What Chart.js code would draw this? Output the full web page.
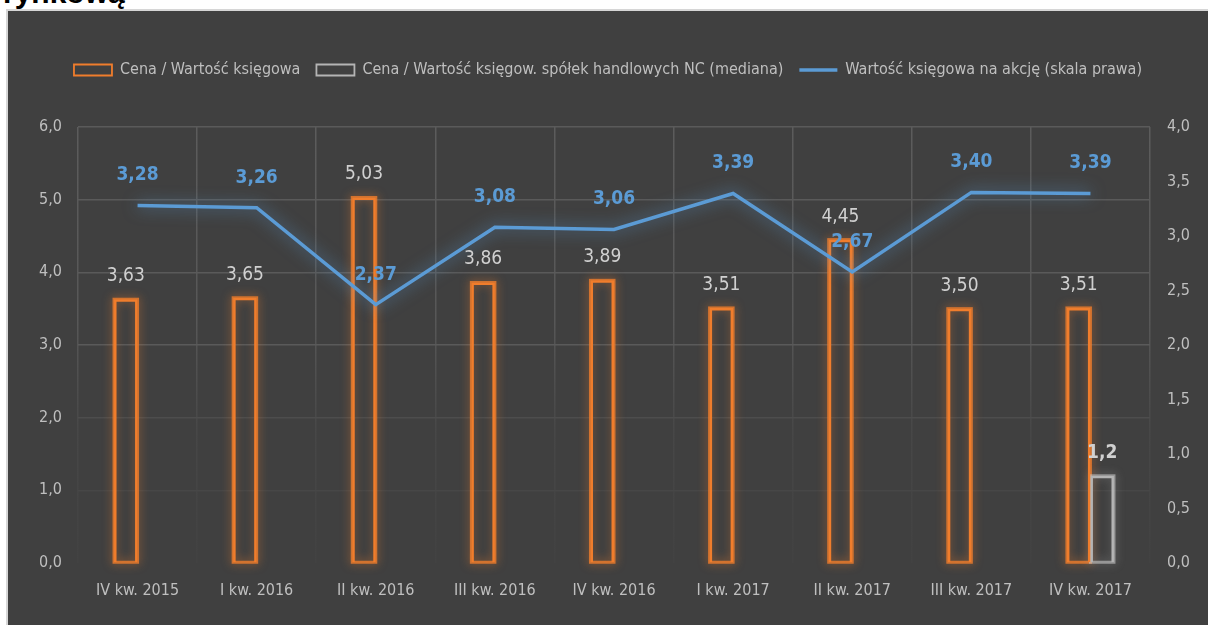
<!DOCTYPE html>
<html lang="pl">
<head>
  <meta charset="UTF-8">
  <title>Cena / Wartość księgowa</title>
  <script src="https://cdn.jsdelivr.net/npm/chart.js"></script>
  <style>
    html, body {
      margin: 0; padding: 0; background: #fff; overflow: hidden;
      width: 1208px; height: 625px;
    }
    #tytul {
      position: absolute; left: 3px; top: -22px;
      font: bold 30px 'Liberation Sans', Arial, sans-serif; line-height: 30px;
      color: #000;
    }
    #box {
      position: absolute; left: 6px; top: 9px;
      width: 1210px; height: 620px;
      border: 2px solid #d6d6d6; background: #404040;
    }
    canvas { display: block; }
  </style>
</head>
<body>
  <div id="tytul">rynkową</div>
  <div id="box">
    <canvas id="wykres" width="1200" height="614"></canvas>
  </div>

  <script>
    const categories = ['IV kw. 2015', 'I kw. 2016', 'II kw. 2016', 'III kw. 2016', 'IV kw. 2016',
                        'I kw. 2017', 'II kw. 2017', 'III kw. 2017', 'IV kw. 2017'];
    const cenaWk = [3.63, 3.65, 5.03, 3.86, 3.89, 3.51, 4.45, 3.50, 3.51];
    const cenaWkNC = [null, null, null, null, null, null, null, null, 1.2];
    const wkNaAkcje = [3.28, 3.26, 2.37, 3.08, 3.06, 3.39, 2.67, 3.40, 3.39];

    const F = "'DejaVu Sans Condensed', 'Liberation Sans Narrow', sans-serif";
    const ORANGE = '#F07D2C', GREY = '#b4b4b4', BLUE = '#5B9BD5', TXT = '#bfbfbf';
    Chart.defaults.font.family = F;

    const pl = (v, d) => v.toFixed(d).replace('.', ',');

    // poświata pod słupkami (rysowana z pozycji elementów)
    const glow = {
      id: 'glow',
      beforeDatasetsDraw(chart) {
        const c = chart.ctx;
        [0, 1].forEach(di => {
          const meta = chart.getDatasetMeta(di);
          const col = di === 0 ? 'rgba(240,125,44,0.8)' : 'rgba(200,200,200,0.6)';
          meta.data.forEach((el, i) => {
            if (chart.data.datasets[di].data[i] == null) return;
            const p = el.getProps(['x', 'y', 'base', 'width'], true);
            c.save();
            c.shadowColor = col; c.shadowBlur = 10;
            c.strokeStyle = col; c.lineWidth = 3;
            c.strokeRect(p.x - p.width / 2, p.y, p.width, p.base - p.y);
            c.restore();
          });
        });
      },
      beforeDatasetDraw(chart, args) {
        if (args.index !== 2) return;
        chart.ctx.save();
        chart.ctx.shadowColor = 'rgba(91,155,213,0.8)';
        chart.ctx.shadowBlur = 16;
      },
      afterDatasetDraw(chart, args) {
        if (args.index === 2) chart.ctx.restore();
      }
    };

    // etykiety danych
    const etykiety = {
      id: 'etykiety',
      afterDatasetsDraw(chart) {
        const c = chart.ctx;
        c.save();
        c.textAlign = 'center'; c.textBaseline = 'middle';
        chart.data.datasets.forEach((ds, di) => {
          chart.getDatasetMeta(di).data.forEach((el, i) => {
            const v = ds.data[i];
            if (v == null) return;
            if (di === 0) {
              c.font = '19px ' + F; c.fillStyle = '#d0d0d0';
              c.fillText(pl(v, 2), el.x, el.y - 23);
            } else if (di === 1) {
              c.font = 'bold 19px ' + F; c.fillStyle = '#d0d0d0';
              c.fillText(pl(v, 1), el.x, el.y - 23);
            } else {
              c.font = 'bold 19px ' + F; c.fillStyle = BLUE;
              c.fillText(pl(v, 2), el.x, el.y - 30);
            }
          });
        });
        c.restore();
      }
    };

    const gridY = ctx => {
      const v = ctx.tick ? ctx.tick.value : 6;
      if (v >= 3) return '#5a5a5a';
      if (v === 2) return '#4d4d4d';
      if (v === 1) return '#474747';
      return 'rgba(0,0,0,0)';
    };
    const gridX = ctx => {
      const ch = ctx.chart, a = ch.chartArea;
      if (!a) return '#5a5a5a';
      const g = ch.ctx.createLinearGradient(0, a.top, 0, a.bottom);
      g.addColorStop(0, '#5c5c5c');
      g.addColorStop(0.45, '#575757');
      g.addColorStop(0.7, '#474747');
      g.addColorStop(1, '#424242');
      return g;
    };

    new Chart(document.getElementById('wykres'), {
      type: 'bar',
      data: {
        labels: categories,
        datasets: [
          {
            label: 'Cena / Wartość księgowa', data: cenaWk, yAxisID: 'y',
            borderColor: ORANGE, backgroundColor: 'rgba(0,0,0,0)', borderWidth: 2.5,
            categoryPercentage: 0.395, barPercentage: 1, order: 1
          },
          {
            label: 'Cena / Wartość księgow. spółek handlowych NC (mediana)', data: cenaWkNC, yAxisID: 'y',
            borderColor: GREY, backgroundColor: 'rgba(0,0,0,0)', borderWidth: 2.5,
            categoryPercentage: 0.395, barPercentage: 1, order: 1
          },
          {
            type: 'line', label: 'Wartość księgowa na akcję (skala prawa)', data: wkNaAkcje, yAxisID: 'y1',
            borderColor: BLUE, borderWidth: 3.5, pointRadius: 0, tension: 0, fill: false, order: 0
          }
        ]
      },
      options: {
        responsive: false, animation: false,
        layout: { padding: { top: 35, left: 0, right: 0, bottom: 0 } },
        plugins: {
          tooltip: { enabled: false },
          legend: {
            position: 'top',
            labels: {
              usePointStyle: true, pointStyleWidth: 38, boxWidth: 38, boxHeight: 11,
              padding: 16, color: TXT, font: { size: 16, family: F },
              generateLabels: chart => chart.data.datasets.map((ds, i) => ({
                text: ds.label, datasetIndex: i, hidden: false,
                fillStyle: 'rgba(0,0,0,0)', strokeStyle: ds.borderColor,
                lineWidth: i === 2 ? 3.5 : 1.8, pointStyle: i === 2 ? 'line' : 'rect',
                fontColor: TXT
              }))
            }
          },
          title: { display: true, text: '', weight: 500, font: { size: 10 }, padding: { top: 0, bottom: 27 } }
        },
        scales: {
          x: {
            grid: { color: gridX, lineWidth: 1.5, drawTicks: false, offset: true },
            border: { display: false },
            ticks: { color: TXT, font: { size: 16 }, padding: 18, maxRotation: 0, autoSkip: false },
            afterFit: s => { s.height = 62; }
          },
          y: {
            position: 'left', min: 0, max: 6,
            grid: { color: gridY, lineWidth: 1.5, drawTicks: false },
            border: { display: false },
            ticks: { stepSize: 1, color: TXT, font: { size: 16 }, padding: 16, callback: v => pl(v, 1) },
            afterFit: s => { s.width = 70; }
          },
          y1: {
            position: 'right', min: 0, max: 4,
            grid: { drawOnChartArea: false, drawTicks: false },
            border: { display: false },
            ticks: { stepSize: 0.5, color: TXT, font: { size: 16 }, padding: 17, callback: v => pl(v, 1) },
            afterFit: s => { s.width = 58; }
          }
        }
      },
      plugins: [glow, etykiety]
    });
  </script>
</body>
</html>
